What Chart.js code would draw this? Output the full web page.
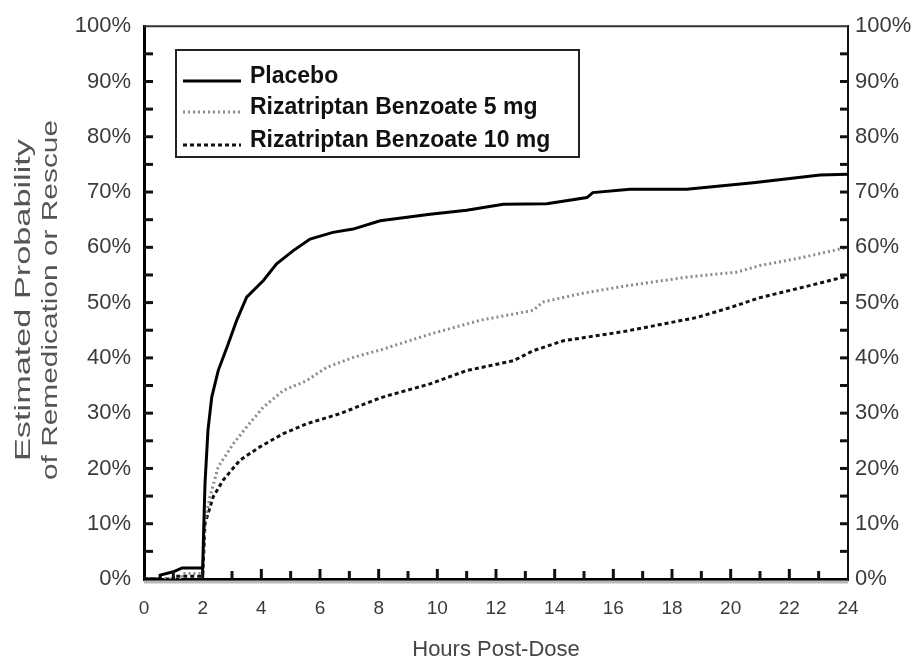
<!DOCTYPE html>
<html>
<head>
<meta charset="utf-8">
<script src="https://cdn.jsdelivr.net/npm/chart.js@4.4.1/dist/chart.umd.min.js"></script>
<style>
  body { margin: 0; background: #fff; }
  #chart { display: block; }
</style>
</head>
<body>
<canvas id="chart" width="913" height="667"></canvas>
<script>
// Datos (horas post-dosis / % acumulado)
const seriesNames = ['Placebo', 'Rizatriptan Benzoate 5 mg', 'Rizatriptan Benzoate 10 mg'];

const placeboHours = [0, 0.55, 0.55, 1.0, 1.3, 2.0, 2.03, 2.08, 2.18, 2.31, 2.53, 2.87, 3.16, 3.5, 4.07, 4.52, 5.09, 5.66, 6.44, 7.13, 8.05, 9.75, 11.0, 12.25, 13.73, 15.1, 15.3, 16.57, 18.5, 20.77, 23.05, 24];
const placeboPct = [0, 0, 0.7, 1.3, 2, 2, 8, 17.3, 26.9, 32.9, 37.7, 42.5, 46.8, 51, 54, 57, 59.4, 61.5, 62.7, 63.3, 64.8, 66, 66.7, 67.8, 67.9, 69, 69.9, 70.5, 70.5, 71.7, 73.1, 73.2];

const riza5Hours = [0, 1.3, 1.3, 2.0, 2.04, 2.08, 2.25, 2.53, 3.05, 3.5, 4.07, 4.75, 5.55, 6.23, 7.14, 8.1, 9.75, 11.46, 13.27, 13.6, 14.86, 16.4, 18.5, 20.2, 21.0, 22.48, 23.73, 24];
const riza5Pct = [0, 0, 1, 1, 6, 10.6, 14.9, 20.3, 24.5, 27.5, 31.1, 34.1, 35.9, 38.3, 40.1, 41.5, 44.3, 46.8, 48.6, 50.1, 51.6, 53, 54.6, 55.5, 56.7, 58.2, 59.7, 60];

const riza10Hours = [0, 1.0, 1.0, 2.0, 2.04, 2.08, 2.36, 2.7, 3.27, 3.95, 4.75, 5.55, 6.68, 7.82, 8.2, 9.75, 11.0, 12.6, 13.27, 14.3, 16.4, 18.84, 19.98, 21.0, 22.48, 23.84, 24];
const riza10Pct = [0, 0, 0.5, 0.5, 5, 10, 14.9, 17.9, 21.5, 23.9, 26.3, 28.1, 29.9, 32.3, 33, 35.3, 37.7, 39.5, 41.3, 43.1, 44.8, 47.3, 49.1, 50.9, 52.8, 54.6, 54.8];

const xTicks = [0, 2, 4, 6, 8, 10, 12, 14, 16, 18, 20, 22, 24];
const yTicks = [0, 10, 20, 30, 40, 50, 60, 70, 80, 90, 100];
const xTitle = 'Hours Post-Dose';
const yTitle = ['Estimated Probability', 'of Remedication or Rescue'];

const toPoints = (xs, ys) => xs.map((x, i) => ({ x: x, y: ys[i] }));

const tickFont = { family: "'Liberation Sans', Arial, sans-serif", size: 22 };
const textColor = '#3a3a3a';

// Marcas de escala hacia adentro + borde superior
const innerTicks = {
    id: 'innerTicks',
    afterDraw(chart) {
        const { ctx, chartArea, scales } = chart;
        ctx.save();
        ctx.strokeStyle = '#111';
        ctx.lineWidth = 3;
        for (let h = 1; h < 24; h++) {
            const px = scales.x.getPixelForValue(h);
            const len = h % 2 === 0 ? 10 : 8;
            ctx.beginPath();
            ctx.moveTo(px, chartArea.bottom);
            ctx.lineTo(px, chartArea.bottom - len);
            ctx.stroke();
        }
        for (let v = 5; v < 100; v += 5) {
            const py = scales.y.getPixelForValue(v);
            ctx.beginPath();
            ctx.moveTo(chartArea.left, py);
            ctx.lineTo(chartArea.left + 9, py);
            ctx.stroke();
            ctx.beginPath();
            ctx.moveTo(chartArea.right, py);
            ctx.lineTo(chartArea.right - 8, py);
            ctx.stroke();
        }
        ctx.lineWidth = 2;
        ctx.strokeStyle = '#333';
        ctx.beginPath();
        ctx.moveTo(chartArea.left, chartArea.top);
        ctx.lineTo(chartArea.right, chartArea.top);
        ctx.stroke();
        // sombra gris bajo el eje x, como en la figura
        ctx.strokeStyle = '#b8b8b8';
        ctx.lineWidth = 3;
        ctx.beginPath();
        ctx.moveTo(chartArea.left, chartArea.bottom + 3);
        ctx.lineTo(chartArea.right, chartArea.bottom + 3);
        ctx.stroke();
        ctx.restore();
    }
};

// Titulo del eje Y en dos lineas, estirado como en la figura
const yTitlePlugin = {
    id: 'yTitlePlugin',
    afterDraw(chart) {
        const { ctx } = chart;
        const centerY = 300;
        const cols = [24, 51];
        const lengths = [322, 360];
        ctx.save();
        ctx.fillStyle = '#555';
        ctx.font = "22px 'Liberation Sans', Arial, sans-serif";
        ctx.textAlign = 'center';
        ctx.textBaseline = 'middle';
        yTitle.forEach((line, i) => {
            const w = ctx.measureText(line).width;
            ctx.save();
            ctx.translate(cols[i], centerY);
            ctx.rotate(-Math.PI / 2);
            ctx.scale(lengths[i] / w, 1);
            ctx.fillText(line, 0, 0);
            ctx.restore();
        });
        ctx.restore();
    }
};

// Leyenda dentro del area del grafico
const boxLegend = {
    id: 'boxLegend',
    afterDraw(chart) {
        const { ctx } = chart;
        const box = { left: 176, top: 50, right: 579, bottom: 157 };
        const rows = [77, 108, 141];
        ctx.save();
        ctx.fillStyle = '#fff';
        ctx.fillRect(box.left, box.top, box.right - box.left, box.bottom - box.top);
        ctx.strokeStyle = '#222';
        ctx.lineWidth = 2;
        ctx.strokeRect(box.left, box.top, box.right - box.left, box.bottom - box.top);
        chart.data.datasets.forEach((ds, i) => {
            ctx.beginPath();
            ctx.strokeStyle = ds.borderColor;
            ctx.lineWidth = ds.borderWidth;
            ctx.setLineDash(ds.borderDash || []);
            ctx.moveTo(183, rows[i] + 4);
            ctx.lineTo(241, rows[i] + 4);
            ctx.stroke();
            ctx.setLineDash([]);
            ctx.fillStyle = '#111';
            ctx.font = "bold 23px 'Liberation Sans', Arial, sans-serif";
            ctx.textBaseline = 'middle';
            ctx.fillText(ds.label, 250, rows[i]);
        });
        ctx.restore();
    }
};

new Chart(document.getElementById('chart'), {
    type: 'line',
    data: {
        datasets: [
            {
                label: seriesNames[0],
                data: toPoints(placeboHours, placeboPct),
                borderColor: '#000',
                borderWidth: 3,
            },
            {
                label: seriesNames[1],
                data: toPoints(riza5Hours, riza5Pct),
                borderColor: '#8a8a8a',
                borderWidth: 3,
                borderDash: [2, 3],
            },
            {
                label: seriesNames[2],
                data: toPoints(riza10Hours, riza10Pct),
                borderColor: '#111',
                borderWidth: 3,
                borderDash: [4, 3],
            },
        ],
    },
    options: {
        responsive: false,
        animation: false,
        devicePixelRatio: 1,
        layout: { padding: { top: 25 } },
        elements: {
            point: { radius: 0 },
            line: { tension: 0 },
        },
        plugins: {
            legend: { display: false },
            tooltip: { enabled: false },
        },
        scales: {
            x: {
                type: 'linear',
                min: 0,
                max: 24,
                afterFit: (scale) => { scale.height = 88; },
                afterBuildTicks: (scale) => { scale.ticks = xTicks.map(v => ({ value: v })); },
                grid: { display: false, drawTicks: false },
                border: { display: true, color: '#000', width: 3 },
                ticks: {
                    color: textColor,
                    padding: 18,
                    font: { family: tickFont.family, size: 19 },
                    maxRotation: 0,
                },
                title: {
                    display: true,
                    text: xTitle,
                    color: '#444',
                    font: { family: "'Liberation Sans', Arial, sans-serif", size: 22 },
                    padding: { top: 0, bottom: 4 },
                },
            },
            y: {
                position: 'left',
                min: 0,
                max: 100,
                afterFit: (scale) => { scale.width = 144; },
                afterBuildTicks: (scale) => { scale.ticks = yTicks.map(v => ({ value: v })); },
                grid: { display: false, drawTicks: false },
                border: { display: true, color: '#000', width: 3 },
                ticks: {
                    color: textColor,
                    padding: 13,
                    font: tickFont,
                    callback: (v) => v + '%',
                },
            },
            y2: {
                position: 'right',
                min: 0,
                max: 100,
                afterFit: (scale) => { scale.width = 65; },
                afterBuildTicks: (scale) => { scale.ticks = yTicks.map(v => ({ value: v })); },
                grid: { display: false, drawTicks: false },
                border: { display: true, color: '#111', width: 2 },
                ticks: {
                    color: textColor,
                    padding: 7,
                    font: tickFont,
                    callback: (v) => v + '%',
                },
            },
        },
    },
    plugins: [innerTicks, yTitlePlugin, boxLegend],
});
</script>
</body>
</html>
